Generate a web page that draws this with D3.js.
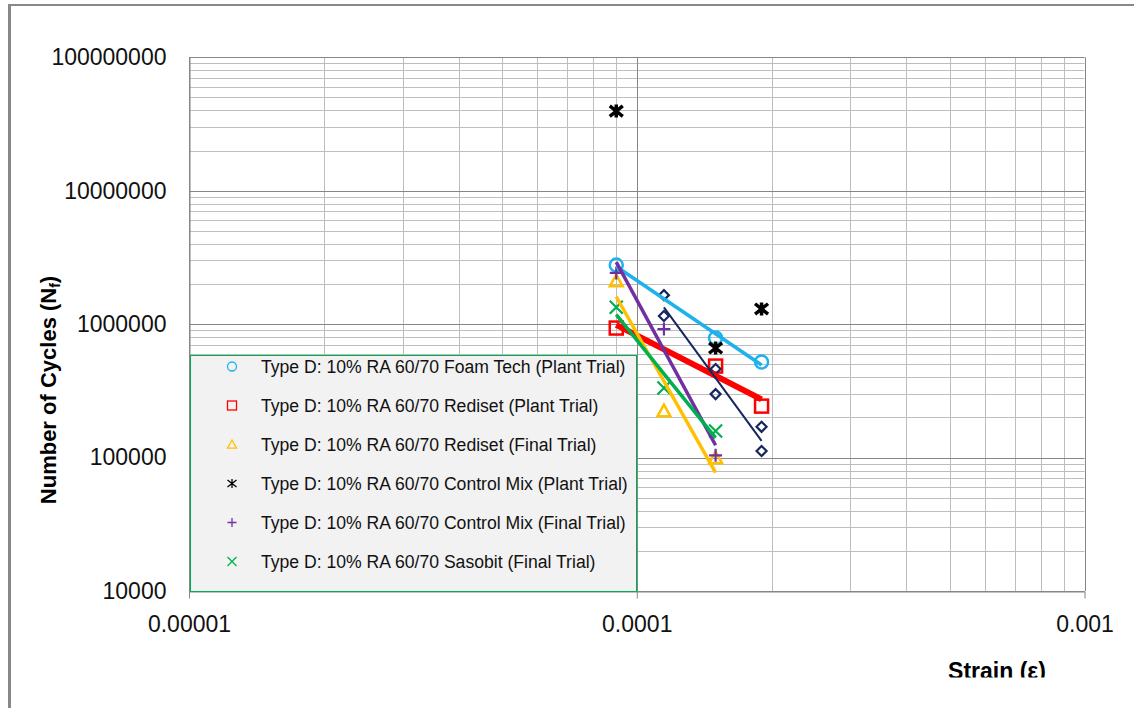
<!DOCTYPE html>
<html>
<head>
<meta charset="utf-8">
<script src="https://cdn.jsdelivr.net/npm/d3@7"></script>
<style>
  body { margin: 0; background: #fff; }
  svg { display: block; font-family: "Liberation Sans", Arial, sans-serif; }
</style>
</head>
<body>
<div id="chart"></div>
<script>
// axis ticks
const strainTicks = [0.00001, 0.0001, 0.001];
const strainTickLabels = ["0.00001", "0.0001", "0.001"];
const cycleTicks = [10000, 100000, 1000000, 10000000, 100000000];
const cycleTickLabels = ["10000", "100000", "1000000", "10000000", "100000000"];

// series
const foamTechStrain = [0.00009, 0.00015, 0.00019];
const foamTechCycles = [2770000, 787000, 520000];

const redisetPlantStrain = [0.00009, 0.00015, 0.00019];
const redisetPlantCycles = [935000, 485000, 243000];

const redisetFinalStrain = [0.00009, 0.000115, 0.00015];
const redisetFinalCycles = [2100000, 223000, 99000];

const controlPlantStrain = [0.00009, 0.00015, 0.00019];
const controlPlantCycles = [39500000, 662000, 1300000];

const controlFinalStrain = [0.00009, 0.000115, 0.00015];
const controlFinalCycles = [2420000, 918000, 104000];

const sasobitStrain = [0.00009, 0.000115, 0.00015];
const sasobitCycles = [1340000, 332000, 158000];

// unlabelled series (dark blue diamonds, no legend entry)
const otherStrain = [0.000115, 0.000115, 0.00015, 0.00015, 0.00019, 0.00019];
const otherCycles = [1650000, 1150000, 461000, 299000, 170000, 112000];

const legendLabels = [
    "Type D: 10% RA 60/70 Foam Tech (Plant Trial)",
    "Type D: 10% RA 60/70 Rediset (Plant Trial)",
    "Type D: 10% RA 60/70 Rediset (Final Trial)",
    "Type D: 10% RA 60/70 Control Mix (Plant Trial)",
    "Type D: 10% RA 60/70 Control Mix (Final Trial)",
    "Type D: 10% RA 60/70 Sasobit (Final Trial)"
];

const series = [
    { strain: foamTechStrain, cycles: foamTechCycles, color: "#1fb1ec", marker: "circle", trend: true, lw: 3.5 },
    { strain: redisetPlantStrain, cycles: redisetPlantCycles, color: "#ff0000", marker: "square", trend: true, lw: 6 },
    { strain: redisetFinalStrain, cycles: redisetFinalCycles, color: "#ffc000", marker: "triangle", trend: true, lw: 3.5 },
    { strain: controlPlantStrain, cycles: controlPlantCycles, color: "#000000", marker: "star", trend: false, lw: 0 },
    { strain: controlFinalStrain, cycles: controlFinalCycles, color: "#7030a0", marker: "plus", trend: true, lw: 3.5 },
    { strain: sasobitStrain, cycles: sasobitCycles, color: "#00b050", marker: "cross", trend: true, lw: 3.5 },
    { strain: otherStrain, cycles: otherCycles, color: "#16275e", marker: "diamond", trend: true, lw: 2 }
];

const width = 1134, height = 708;
const plotLeft = 189, plotRight = 1084.5, plotTop = 57.3, plotBottom = 591;

const svg = d3.select("#chart").append("svg")
    .attr("width", width)
    .attr("height", height);

const x = d3.scaleLog().domain([1e-5, 1e-3]).range([plotLeft, plotRight]);
const y = d3.scaleLog().domain([1e4, 1e8]).range([plotBottom, plotTop]);

// minor values 2..9 in every decade
function minors(lo, hi) {
    const out = [];
    for (let d = lo; d < hi * 0.999; d *= 10) {
        for (let k = 2; k <= 9; k++) out.push(d * k);
    }
    return out;
}

// chart frame (only top and left edges show)
svg.append("line").attr("x1", 9).attr("x2", width).attr("y1", 5).attr("y2", 5)
    .attr("stroke", "#888").attr("stroke-width", 2);
svg.append("line").attr("x1", 9.5).attr("x2", 9.5).attr("y1", 4).attr("y2", height)
    .attr("stroke", "#888").attr("stroke-width", 3);

// gridlines
const grid = svg.append("g");
grid.selectAll(".vminor").data(minors(1e-5, 1e-3)).enter().append("line")
    .attr("x1", d => Math.round(x(d)) + 0.5).attr("x2", d => Math.round(x(d)) + 0.5)
    .attr("y1", plotTop).attr("y2", plotBottom)
    .attr("stroke", "#bdbdbd");
grid.selectAll(".hminor").data(minors(1e4, 1e8)).enter().append("line")
    .attr("x1", plotLeft).attr("x2", plotRight)
    .attr("y1", d => Math.round(y(d)) + 0.5).attr("y2", d => Math.round(y(d)) + 0.5)
    .attr("stroke", "#bdbdbd");
grid.selectAll(".vmajor").data(strainTicks).enter().append("line")
    .attr("x1", d => Math.round(x(d)) + 0.5).attr("x2", d => Math.round(x(d)) + 0.5)
    .attr("y1", plotTop).attr("y2", plotBottom)
    .attr("stroke", "#868686");
grid.selectAll(".hmajor").data(cycleTicks).enter().append("line")
    .attr("x1", plotLeft).attr("x2", plotRight)
    .attr("y1", d => Math.round(y(d)) + 0.5).attr("y2", d => Math.round(y(d)) + 0.5)
    .attr("stroke", "#868686");

// axes
const xAxis = svg.append("g")
    .attr("transform", `translate(0,${Math.round(plotBottom) + 0.5})`)
    .call(d3.axisBottom(x).tickValues(strainTicks)
        .tickFormat((d, i) => strainTickLabels[i])
        .tickSize(7).tickPadding(17).tickSizeOuter(0));
xAxis.select(".domain").attr("stroke", "#868686");
xAxis.selectAll(".tick line").attr("stroke", "#868686");
xAxis.selectAll("text").attr("font-size", "23px").attr("fill", "#111")
    .attr("font-family", "Liberation Sans, Arial, sans-serif");

const yAxis = svg.append("g")
    .attr("transform", `translate(${Math.round(plotLeft) + 0.5},0)`)
    .call(d3.axisLeft(y).tickValues(cycleTicks)
        .tickFormat((d, i) => cycleTickLabels[i])
        .tickSize(0).tickPadding(23).tickSizeOuter(0));
yAxis.select(".domain").attr("stroke", "#868686");
yAxis.selectAll("text").attr("font-size", "23px").attr("fill", "#111")
    .attr("font-family", "Liberation Sans, Arial, sans-serif");

// marker drawing
function drawMarker(g, type, s, color, sw) {
    const h = s / 2;
    if (type == "circle") {
        g.append("circle").attr("r", h).attr("fill", "none").attr("stroke", color).attr("stroke-width", sw);
    } else if (type == "square") {
        g.append("rect").attr("x", -h).attr("y", -h).attr("width", s).attr("height", s)
            .attr("fill", "none").attr("stroke", color).attr("stroke-width", sw);
    } else if (type == "triangle") {
        g.append("path").attr("d", `M0,${-h}L${h},${h * 0.8}L${-h},${h * 0.8}Z`)
            .attr("fill", "none").attr("stroke", color).attr("stroke-width", sw);
    } else if (type == "diamond") {
        g.append("path").attr("d", `M0,${-h}L${h},0L0,${h}L${-h},0Z`)
            .attr("fill", "none").attr("stroke", color).attr("stroke-width", sw);
    } else if (type == "plus") {
        g.append("path").attr("d", `M${-h},0H${h}M0,${-h}V${h}`)
            .attr("stroke", color).attr("stroke-width", sw);
    } else if (type == "cross") {
        g.append("path").attr("d", `M${-h},${-h}L${h},${h}M${h},${-h}L${-h},${h}`)
            .attr("stroke", color).attr("stroke-width", sw);
    } else if (type == "star") {
        g.append("path").attr("d", `M${-h},${-h * 0.8}L${h},${h * 0.8}M${h},${-h * 0.8}L${-h},${h * 0.8}M0,${-h}V${h}`)
            .attr("stroke", color).attr("stroke-width", sw);
    }
}

const markerSize = { circle: 13, square: 13, triangle: 13, diamond: 10, plus: 13, cross: 13, star: 13 };
const markerStroke = { circle: 2.5, square: 2.5, triangle: 2.5, diamond: 2.2, plus: 2.2, cross: 2.2, star: 3.5 };

// data markers
const marks = svg.append("g");
series.forEach(s => {
    s.strain.forEach((v, i) => {
        const g = marks.append("g")
            .attr("transform", `translate(${x(v)},${y(s.cycles[i])})`);
        drawMarker(g, s.marker, markerSize[s.marker], s.color, markerStroke[s.marker]);
    });
});

// power trendlines (least squares in log-log space)
function powerFit(xs, ys) {
    const lx = xs.map(Math.log10), ly = ys.map(Math.log10);
    const mx = d3.mean(lx), my = d3.mean(ly);
    const b = d3.sum(lx, (v, i) => (v - mx) * (ly[i] - my)) / d3.sum(lx, v => (v - mx) * (v - mx));
    const a = my - b * mx;
    return v => Math.pow(10, a + b * Math.log10(v));
}

const trends = svg.append("g");
series.filter(s => s.trend).forEach(s => {
    const f = powerFit(s.strain, s.cycles);
    const ext = d3.extent(s.strain);
    trends.append("line")
        .attr("x1", x(ext[0])).attr("y1", y(f(ext[0])))
        .attr("x2", x(ext[1])).attr("y2", y(f(ext[1])))
        .attr("stroke", s.color)
        .attr("stroke-width", s.lw);
});

// legend
const legend = svg.append("g");
legend.append("rect")
    .attr("x", 190.5).attr("y", 355.5)
    .attr("width", 446).attr("height", 236)
    .attr("fill", "#f2f2f2")
    .attr("stroke", "#00b050");

legendLabels.forEach((label, i) => {
    const by = 372.5 + i * 39;
    const g = legend.append("g").attr("transform", `translate(232,${by - 6})`);
    drawMarker(g, series[i].marker, 9, series[i].color, 1.3);
    legend.append("text")
        .attr("x", 261).attr("y", by)
        .attr("font-size", "17.6px")
        .attr("fill", "#111")
        .text(label);
});

// axis titles
const yTitle = svg.append("text")
    .attr("transform", "translate(56,390) rotate(-90)")
    .attr("text-anchor", "middle")
    .attr("font-size", "22px")
    .attr("font-weight", "bold");
yTitle.append("tspan").text("Number of Cycles (N");
yTitle.append("tspan").attr("font-size", "14px").attr("dy", 4).text("f");
yTitle.append("tspan").attr("dy", -4).text(")");

svg.append("clipPath").attr("id", "clipBottom")
    .append("rect").attr("x", 0).attr("y", 0).attr("width", width).attr("height", 677.5);

svg.append("text")
    .attr("clip-path", "url(#clipBottom)")
    .attr("x", 997).attr("y", 679)
    .attr("text-anchor", "middle")
    .attr("font-size", "23px")
    .attr("font-weight", "bold")
    .text("Strain (ε)");
</script>
</body>
</html>
